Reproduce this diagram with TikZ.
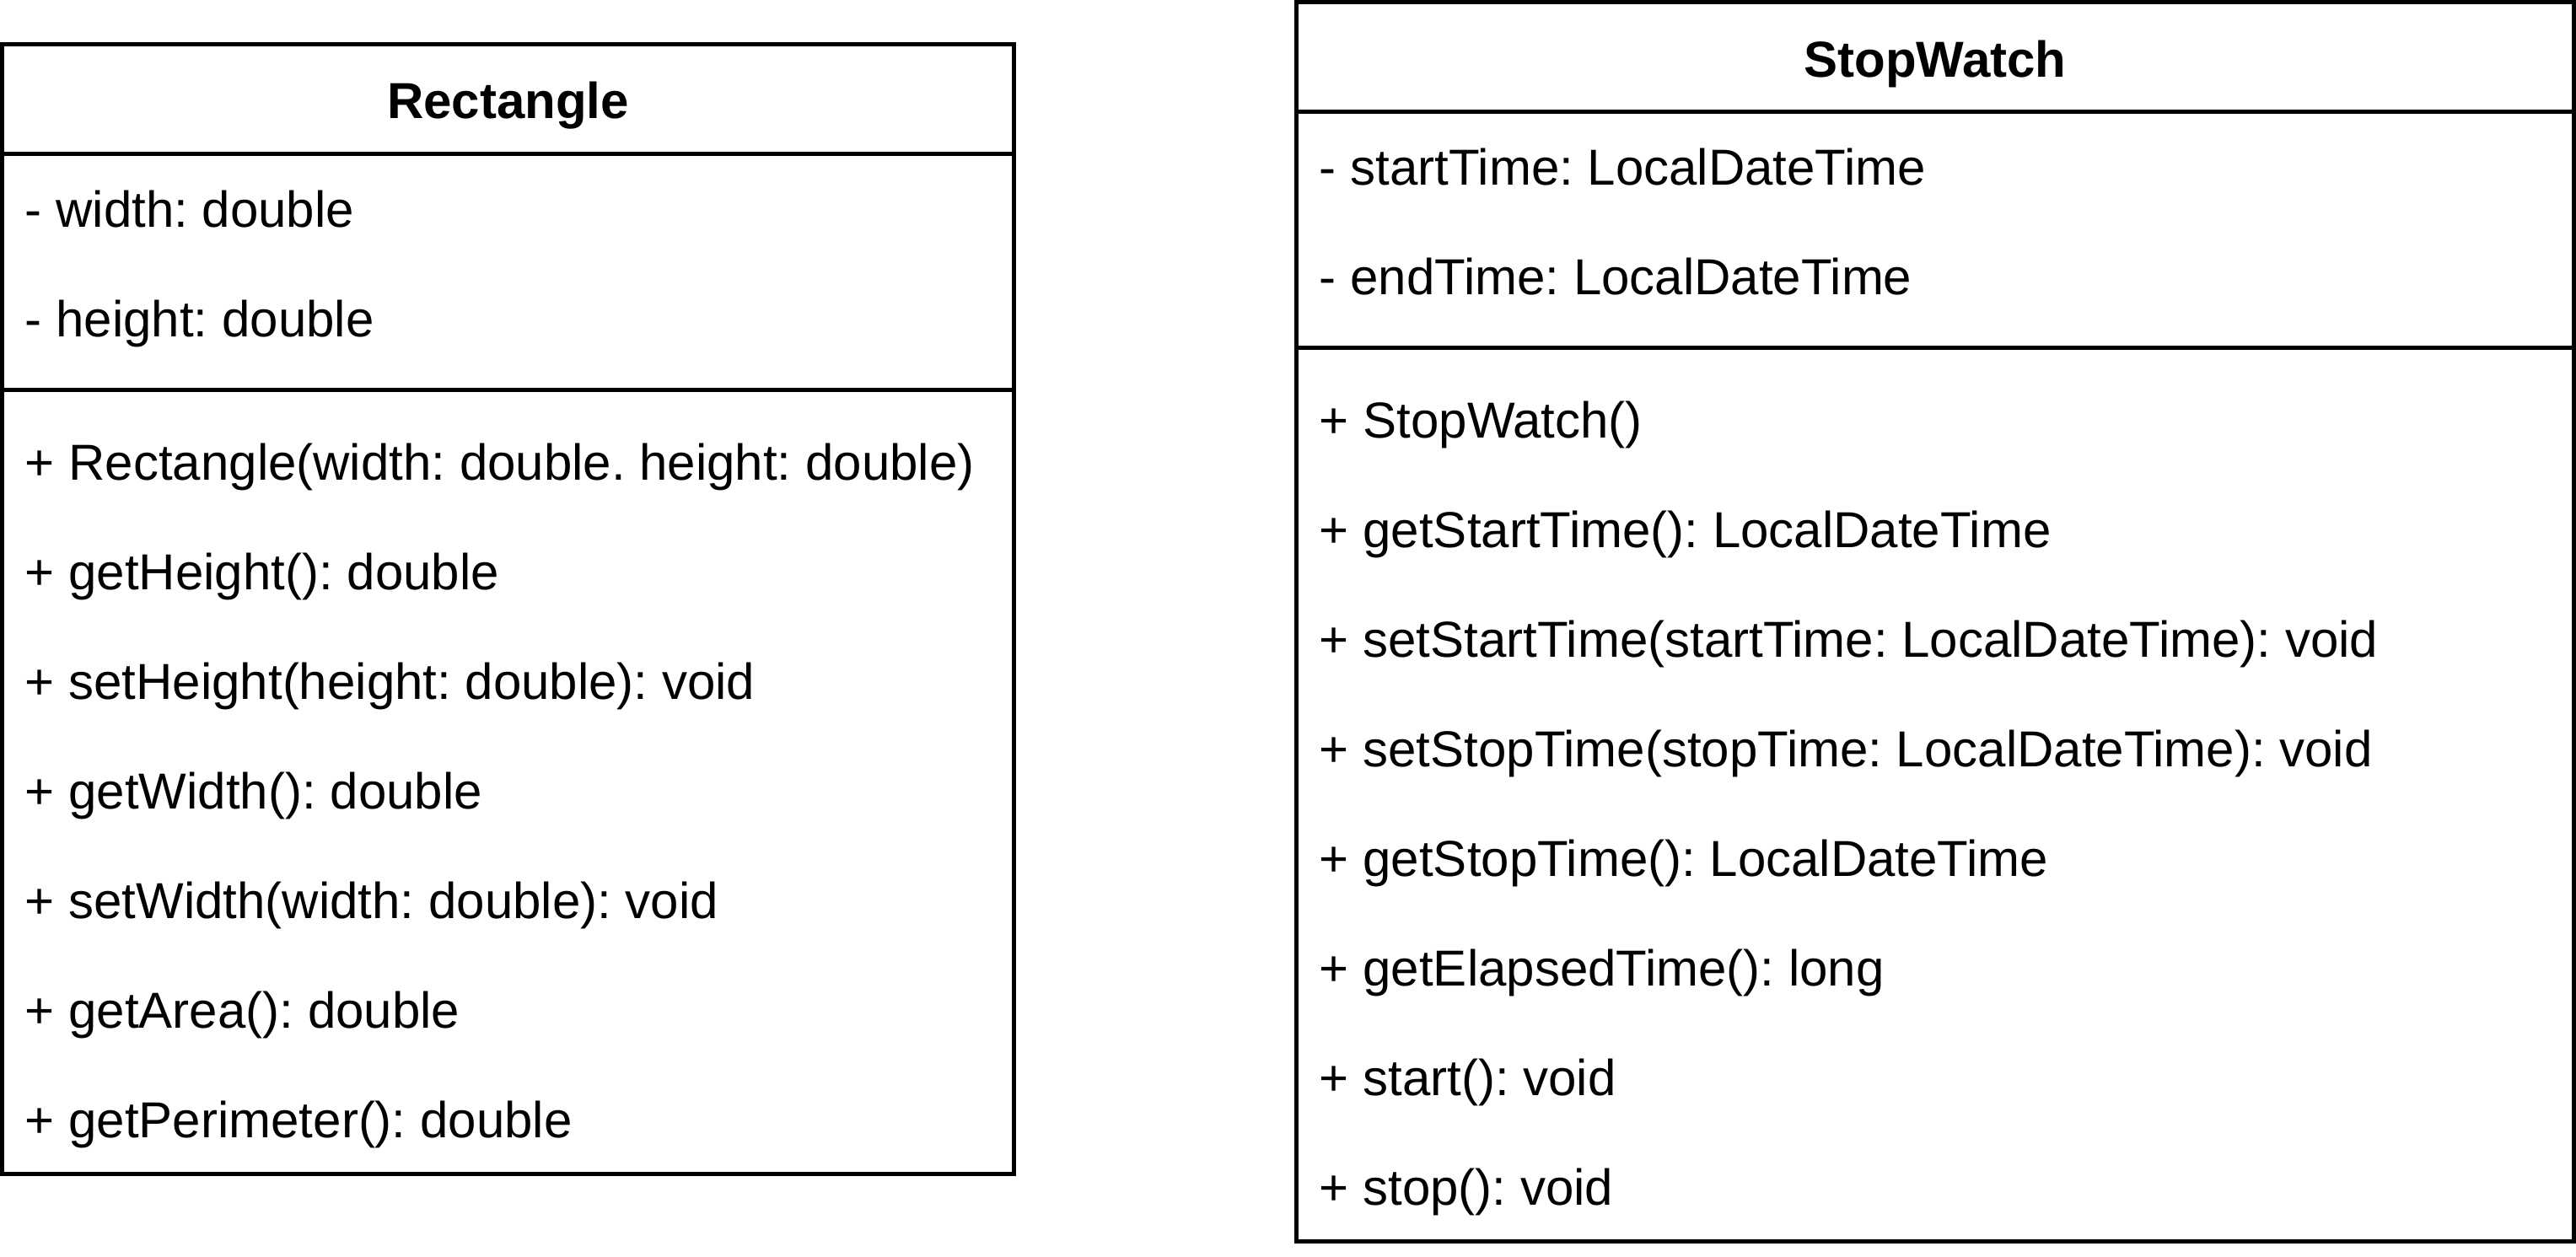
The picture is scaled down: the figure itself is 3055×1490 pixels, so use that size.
\documentclass[tikz,border=0pt]{standalone}
\usepackage{fontspec}
\setmainfont{Liberation Sans}
\frenchspacing
\begin{document}
\begin{tikzpicture}[x=0.5pt,y=-0.5pt,
  frame/.style={draw=black,line width=2.5pt},
  member/.style={anchor=base west,inner sep=0pt,font=\fontsize{30}{36}\selectfont\frenchspacing},
  classname/.style={anchor=base,inner sep=0pt,font=\fontsize{30}{36}\selectfont\bfseries}]
\useasboundingbox (0,0) rectangle (3055,1490);

% ---- class Rectangle ----
\draw[frame] (2.5,52.5) rectangle (1202.5,1392.5);
\draw[frame] (2.5,182.5) -- (1202.5,182.5);
\draw[frame] (2.5,462.5) -- (1202.5,462.5);
\node[classname] (rect-name) at (602.5,140) {Rectangle};
\foreach \t [count=\i] in {{- width: double},{- height: double}}
  \node[member] (rect-a\i) at (29.5,139+130*\i) {\t};
\foreach \t [count=\i] in {{+ Rectangle(width: double. height: double)},
    {+ getHeight(): double},{+ setHeight(height: double): void},
    {+ getWidth(): double},{+ setWidth(width: double): void},
    {+ getArea(): double},{+ getPerimeter(): double}}
  \node[member] (rect-m\i) at (29.5,439+130*\i) {\t};

% ---- class StopWatch ----
\draw[frame] (1537.5,2.5) rectangle (3052.5,1472.5);
\draw[frame] (1537.5,132.5) -- (3052.5,132.5);
\draw[frame] (1537.5,412.5) -- (3052.5,412.5);
\node[classname] (sw-name) at (2295,91) {StopWatch};
\foreach \t [count=\i] in {{- startTime: LocalDateTime},{- endTime: LocalDateTime}}
  \node[member] (sw-a\i) at (1564.5,89+130*\i) {\t};
\foreach \t [count=\i] in {{+ StopWatch()},
    {+ getStartTime(): LocalDateTime},
    {+ setStartTime(startTime: LocalDateTime): void},
    {+ setStopTime(stopTime: LocalDateTime): void},
    {+ getStopTime(): LocalDateTime},
    {+ getElapsedTime(): long},
    {+ start(): void},{+ stop(): void}}
  \node[member] (sw-m\i) at (1564.5,389+130*\i) {\t};
\end{tikzpicture}
\end{document}
